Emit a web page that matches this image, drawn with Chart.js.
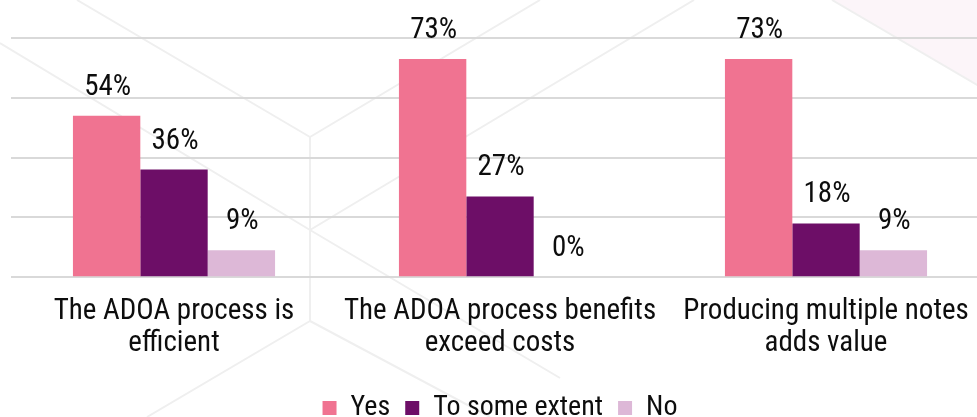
<!DOCTYPE html>
<html>
<head>
<meta charset="utf-8">
<script src="https://cdn.jsdelivr.net/npm/chart.js@4/dist/chart.umd.min.js"></script>
<style>
  html, body { margin: 0; padding: 0; background: #fff; overflow: hidden; }
  #wrap { width: 977px; height: 417px; overflow: hidden; position: relative; }
  canvas { position: absolute; left: 0; top: 0; }
</style>
</head>
<body>
<div id="wrap"><canvas id="chart" width="989" height="417"></canvas></div>
<script>
  const categories = [
    ['The ADOA process is', 'efficient'],
    ['The ADOA process benefits', 'exceed costs'],
    ['Producing multiple notes', 'adds value']
  ];
  const seriesNames = ['Yes', 'To some extent', 'No'];
  const yesValues = [54, 73, 73];
  const someValues = [36, 27, 18];
  const noValues = [9, 0, 9];
  const seriesColors = ['#f07391', '#6d0e67', '#ddb8d7'];

  const FONT = "'Liberation Sans Narrow', 'Arial Narrow', 'Roboto Condensed', 'DejaVu Sans Condensed', sans-serif";

  // faint hexagon pattern in the background (decoration only)
  const backdrop = {
    id: 'backdrop',
    beforeDraw(chart) {
      const ctx = chart.ctx;
      ctx.save();
      ctx.fillStyle = '#fcf5f9';
      ctx.beginPath();
      ctx.moveTo(832, 0); ctx.lineTo(989, 92); ctx.lineTo(989, 0); ctx.closePath();
      ctx.fill();
      ctx.strokeStyle = '#efefef';
      ctx.lineWidth = 2;
      const segs = [
        [77, 0, 310, 137], [310, 137, 540, 0], [310, 137, 310, 321],
        [0, 43, 310, 230], [310, 230, 560, 378], [310, 230, 694, 0],
        [310, 321, 147, 417], [310, 321, 490, 417], [832, 0, 989, 92]
      ];
      segs.forEach(([x1, y1, x2, y2]) => {
        ctx.beginPath(); ctx.moveTo(x1, y1); ctx.lineTo(x2, y2); ctx.stroke();
      });
      ctx.restore();
    }
  };

  // value labels above each bar
  const valueLabels = {
    id: 'valueLabels',
    afterDatasetsDraw(chart) {
      const ctx = chart.ctx;
      ctx.save();
      ctx.font = '29px ' + FONT;
      ctx.fillStyle = '#0d0d0d';
      ctx.textAlign = 'center';
      ctx.textBaseline = 'alphabetic';
      chart.data.datasets.forEach((ds, i) => {
        chart.getDatasetMeta(i).data.forEach((bar, j) => {
          ctx.fillText(ds.data[j] + '%', bar.x + 1, bar.y - 21);
        });
      });
      ctx.restore();
    }
  };

  new Chart(document.getElementById('chart'), {
    type: 'bar',
    data: {
      labels: categories,
      datasets: [
        { label: seriesNames[0], data: yesValues, backgroundColor: seriesColors[0] },
        { label: seriesNames[1], data: someValues, backgroundColor: seriesColors[1] },
        { label: seriesNames[2], data: noValues, backgroundColor: seriesColors[2] }
      ]
    },
    options: {
      responsive: false,
      animation: false,
      devicePixelRatio: 1,
      categoryPercentage: 0.62,
      barPercentage: 1,
      layout: { padding: { left: 11, right: 0, top: 38, bottom: -15 } },
      plugins: {
        legend: {
          position: 'bottom',
          labels: {
            font: { family: FONT, size: 28 },
            color: '#0d0d0d',
            boxWidth: 14,
            boxHeight: 14,
            padding: 15
          }
        },
        tooltip: { enabled: false }
      },
      scales: {
        x: {
          grid: { display: false, drawTicks: false },
          border: { display: false },
          ticks: {
            color: '#0d0d0d',
            font: { family: FONT, size: 29, lineHeight: 1.1 },
            padding: 19,
            maxRotation: 0,
            autoSkip: false
          }
        },
        y: {
          min: 0,
          max: 80,
          ticks: { display: false, stepSize: 20 },
          grid: { color: '#d9d9d9', lineWidth: 2, drawTicks: false },
          border: { display: false }
        }
      }
    },
    plugins: [backdrop, valueLabels]
  });
</script>
</body>
</html>
